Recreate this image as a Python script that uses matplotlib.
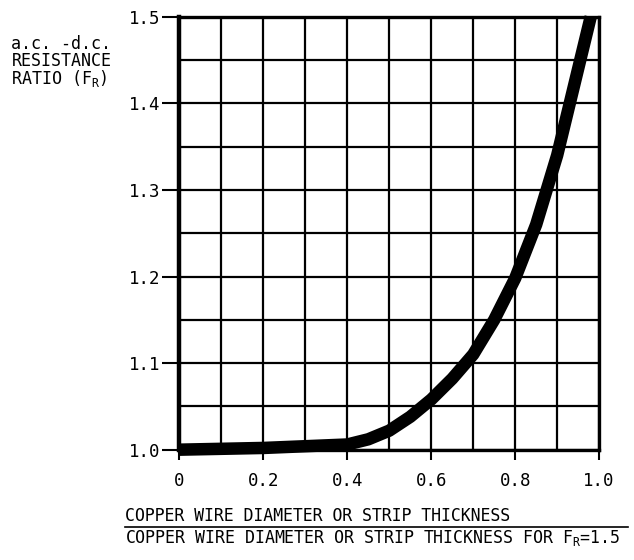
import matplotlib
matplotlib.use("Agg")
import matplotlib.pyplot as plt
from matplotlib.lines import Line2D

# Data
ratio_x = [0.0, 0.1, 0.2, 0.3, 0.4, 0.45, 0.5, 0.55, 0.6, 0.65, 0.7, 0.75,
           0.8, 0.85, 0.9, 0.93, 0.96, 0.98]
fr_y = [1.0, 1.001, 1.002, 1.004, 1.006, 1.012, 1.022, 1.038, 1.058, 1.082,
        1.11, 1.15, 1.198, 1.26, 1.34, 1.4, 1.46, 1.5]
x_ticks = [0.0, 0.2, 0.4, 0.6, 0.8, 1.0]
x_tick_labels = ["0", "0.2", "0.4", "0.6", "0.8", "1.0"]
y_ticks = [1.0, 1.1, 1.2, 1.3, 1.4, 1.5]
y_tick_labels = ["1.0", "1.1", "1.2", "1.3", "1.4", "1.5"]

mono = "DejaVu Sans Mono"
fig = plt.figure(figsize=(6.34, 5.6), dpi=100)
ax = fig.add_axes([0.283, 0.197, 0.662, 0.773])

ax.set_xlim(0, 1.0)
ax.set_ylim(1.0, 1.5)
ax.set_xticks(x_ticks)
ax.set_xticklabels(x_tick_labels, family=mono, fontsize=12.5)
ax.set_yticks(y_ticks)
ax.set_yticklabels(y_tick_labels, family=mono, fontsize=12.5)
ax.set_xticks([i / 10 for i in range(11)], minor=True)
ax.set_yticks([1.0 + i * 0.05 for i in range(11)], minor=True)
ax.tick_params(axis="x", which="major", length=7, width=1.5, pad=9, direction="out")
ax.tick_params(axis="y", which="major", length=12, width=1.5, pad=2, direction="out")
ax.tick_params(which="minor", length=0)
ax.grid(True, which="both", color="black", linewidth=1.6)
ax.set_axisbelow(True)

for side, lw in [("left", 3.2), ("top", 2.4), ("right", 2.4), ("bottom", 2.4)]:
    ax.spines[side].set_linewidth(lw)
    ax.spines[side].set_color("black")

ax.plot(ratio_x, fr_y, color="black", linewidth=9, solid_capstyle="butt",
        solid_joinstyle="round", clip_on=False, zorder=5)

fig.text(0.018, 0.937, "a.c. -d.c.\nRESISTANCE\nRATIO (F$_\\mathregular{R}$)",
         family=mono, fontsize=12, va="top", ha="left", linespacing=0.9)

fig.text(0.197, 0.063, "COPPER WIRE DIAMETER OR STRIP THICKNESS",
         family=mono, fontsize=11.9, va="bottom", ha="left")
fig.text(0.197, 0.057, "COPPER WIRE DIAMETER OR STRIP THICKNESS FOR F$_\\mathregular{R}$=1.5",
         family=mono, fontsize=11.9, va="top", ha="left")
fig.add_artist(Line2D([0.197, 0.99], [0.059, 0.059], transform=fig.transFigure,
                      color="black", linewidth=1.2))

fig.savefig("out.png", dpi=100)
